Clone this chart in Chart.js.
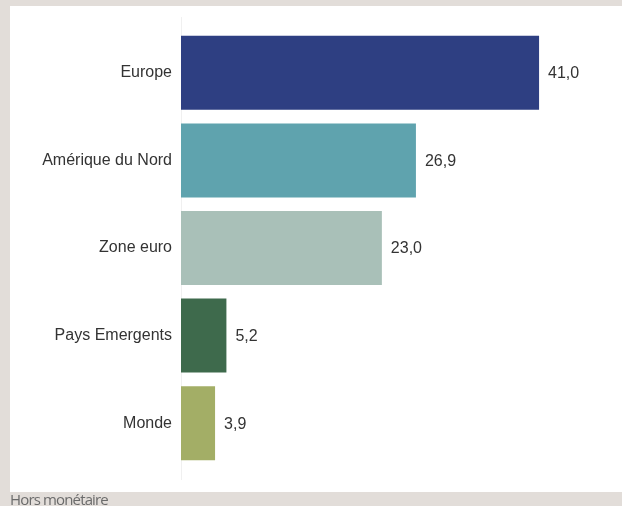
<!DOCTYPE html>
<html>
<head>
<meta charset="utf-8">
<script src="https://cdn.jsdelivr.net/npm/chart.js@4.4.9/dist/chart.umd.min.js"></script>
<style>
  html, body { margin: 0; padding: 0; }
  body { width: 622px; height: 506px; background: #e2ddd9; position: relative; overflow: hidden; }
  #panel { position: absolute; left: 10px; top: 6px; width: 612px; height: 486px; background: #ffffff; }
  #caption {
    position: absolute; left: 10px; top: 492px;
    font-family: 'Open Sans', sans-serif; font-size: 15px; line-height: 15px;
    letter-spacing: -0.85px; color: #6b6b6b; white-space: nowrap;
  }
</style>
</head>
<body>
<div id="panel"><canvas id="chart" width="612" height="486"></canvas></div>
<div id="caption">Hors monétaire</div>
<script>
const categories = ['Europe', 'Amérique du Nord', 'Zone euro', 'Pays Emergents', 'Monde'];
const values = [41.0, 26.9, 23.0, 5.2, 3.9];
const barColors = ['#2e3f82', '#5fa3ae', '#a9c0b8', '#3e6a4c', '#a3ae66'];

const fontFamily = "'Liberation Sans', Arial, sans-serif";
const fmt = v => v.toFixed(1).replace('.', ',');

// faint baseline that runs a bit past the plot area
const baseLine = {
    id: 'baseLine',
    beforeDatasetsDraw(chart) {
        const { ctx, chartArea } = chart;
        const x = chart.scales.x.getPixelForValue(0) + 0.5;
        ctx.save();
        ctx.strokeStyle = '#f0f0f0';
        ctx.lineWidth = 1;
        ctx.beginPath();
        ctx.moveTo(x, chartArea.top - 12);
        ctx.lineTo(x, chartArea.bottom + 13);
        ctx.stroke();
        ctx.restore();
    }
};

const valueLabels = {
    id: 'valueLabels',
    afterDatasetsDraw(chart) {
        const { ctx } = chart;
        const meta = chart.getDatasetMeta(0);
        ctx.save();
        ctx.font = `16px ${fontFamily}`;
        ctx.fillStyle = '#333333';
        ctx.textAlign = 'left';
        ctx.textBaseline = 'middle';
        meta.data.forEach((bar, i) => {
            ctx.fillText(fmt(values[i]), bar.x + 9, bar.y + 1);
        });
        ctx.restore();
    }
};

new Chart(document.getElementById('chart').getContext('2d'), {
    type: 'bar',
    data: {
        labels: categories,
        datasets: [{
            data: values,
            backgroundColor: barColors,
            borderWidth: 0,
            barPercentage: 0.845,
            categoryPercentage: 1
        }]
    },
    options: {
        indexAxis: 'y',
        responsive: false,
        animation: false,
        devicePixelRatio: 1,
        layout: { padding: { top: 23, bottom: 25, left: 0, right: 48 } },
        plugins: { legend: { display: false }, tooltip: { enabled: false } },
        scales: {
            x: { display: false, min: 0, max: 45 },
            y: {
                grid: { display: false, drawTicks: false },
                border: { display: false },
                ticks: { color: '#333333', padding: 9, font: { family: fontFamily, size: 16 } },
                afterFit: scale => { scale.width = 171; }
            }
        }
    },
    plugins: [baseLine, valueLabels]
});
</script>
</body>
</html>
